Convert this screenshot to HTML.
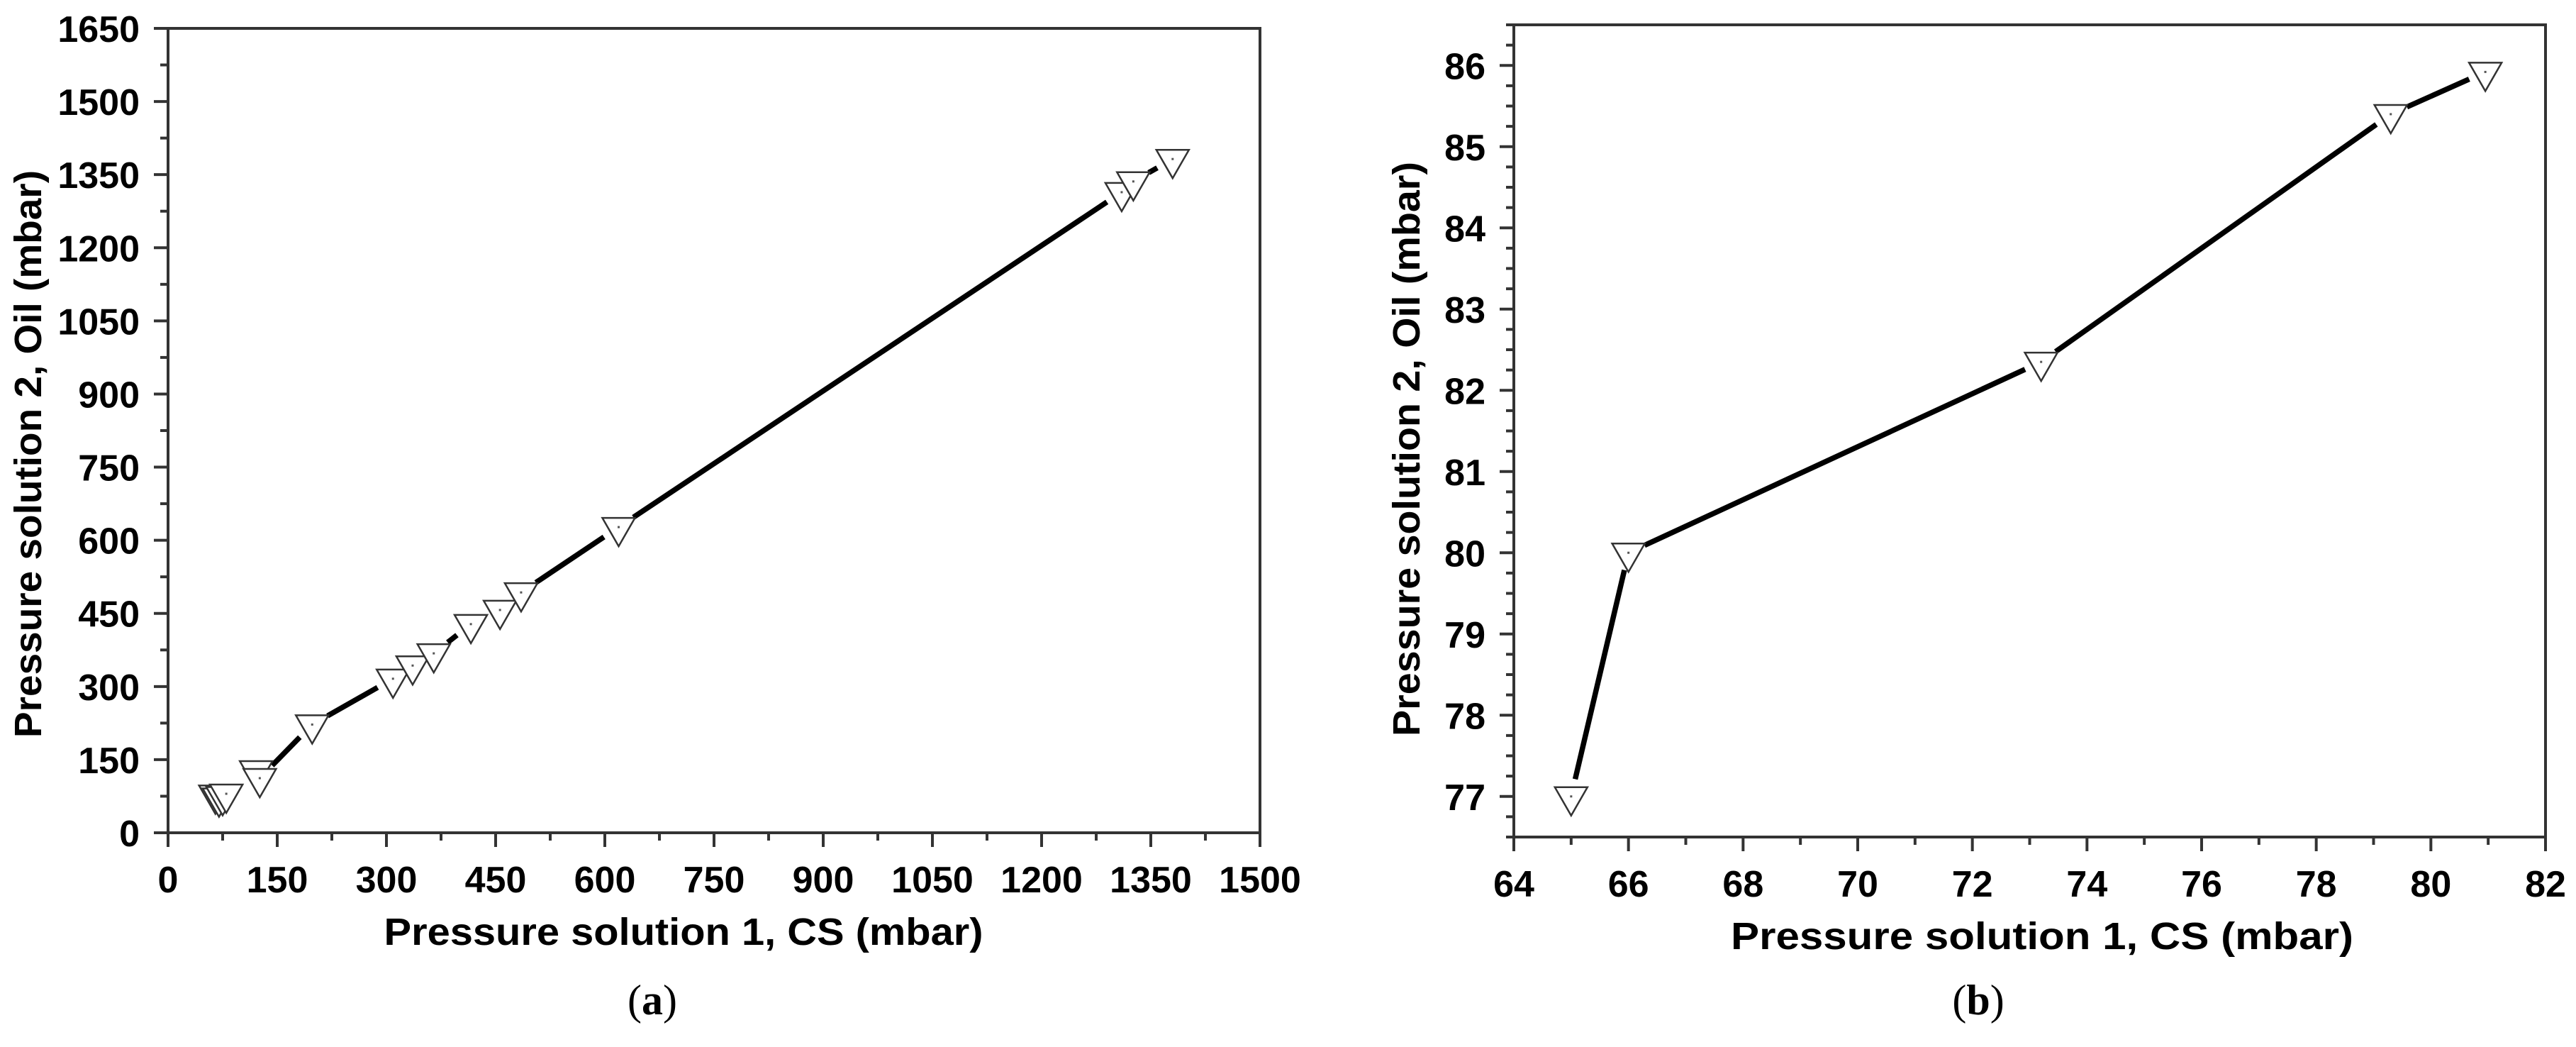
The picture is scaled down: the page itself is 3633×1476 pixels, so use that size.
<!DOCTYPE html>
<html><head><meta charset="utf-8"><style>
html,body{margin:0;padding:0;background:#fff;}
svg{display:block;}
text{font-family:"Liberation Sans",Arial,sans-serif;font-weight:bold;fill:#000;}
</style></head><body>
<svg id="root" width="3633" height="1476" viewBox="0 0 3633 1476" xmlns="http://www.w3.org/2000/svg">
<g id="pa"></g>
<g id="pb"></g>
<text x="920" y="1430" text-anchor="middle" style="font-family:'Liberation Serif',serif;font-size:60px;font-weight:normal">(<tspan font-weight="bold">a</tspan>)</text>
<text x="2790" y="1430" text-anchor="middle" style="font-family:'Liberation Serif',serif;font-size:60px;font-weight:normal">(<tspan font-weight="bold">b</tspan>)</text>
</svg>
<script>
// Panel (a) data
const aX = [65,70,75,80,121,126,198,309,336,365,416,456,485,619,1310,1326,1380];
const aY = [78,72,75,80,128,112,222,316,343,368,428,457,493,627,1314,1336,1382];
const aXTicks = [0,150,300,450,600,750,900,1050,1200,1350,1500];
const aYTicks = [0,150,300,450,600,750,900,1050,1200,1350,1500,1650];
// Panel (b) data
const bX = [65,66,73.2,79.3,80.95];
const bY = [77,80,82.35,85.4,85.92];
const bXTicks = [64,66,68,70,72,74,76,78,80,82];
const bYTicks = [77,78,79,80,81,82,83,84,85,86];

const NS = "http://www.w3.org/2000/svg";
function mk(parent, tag, attrs){
  const e = document.createElementNS(NS, tag);
  for (const k in attrs) e.setAttribute(k, attrs[k]);
  parent.appendChild(e); return e;
}
function panel(g, cfg){
  const {L,R,T,B,x0,x1,y0,y1} = cfg;
  const sx = v => L + (v - x0) / (x1 - x0) * (R - L);
  const sy = v => B - (v - y0) / (y1 - y0) * (B - T);
  const ax = "#333";
  const f = mk(g, "rect", {x:L, y:T, width:R-L, height:B-T, fill:"none", stroke:ax, "stroke-width":4});
  
  
  cfg.xt.forEach((v,i) => {
    const t = mk(g, "line", {x1:sx(v), x2:sx(v), y1:B, y2:B+20, stroke:ax, "stroke-width":4});
    
    
    const lb = mk(g, "text", {x:sx(v), y:B+84, "text-anchor":"middle", "font-size":52});
    lb.textContent = v;
    
    
    if (i < cfg.xt.length - 1) {
      const step = cfg.xt[i+1] - v;
      for (let k = 1; k < cfg.xm; k++) {
        const mv = v + step * k / cfg.xm;
        const m = mk(g, "line", {x1:sx(mv), x2:sx(mv), y1:B, y2:B+11, stroke:ax, "stroke-width":4});
        
        
      }
    }
  });
  cfg.yt.forEach((v,i) => {
    const t = mk(g, "line", {x1:L-20, x2:L, y1:sy(v), y2:sy(v), stroke:ax, "stroke-width":4});
    
    
    const lb = mk(g, "text", {x:cfg.ylx, y:sy(v)+19, "text-anchor":"end", "font-size":52});
    lb.textContent = v;
    
    
  });
  const ystep = cfg.yt[1] - cfg.yt[0];
  for (let v = cfg.yt[0] - ystep; v <= cfg.yt[cfg.yt.length-1] + ystep; v += ystep) {
    for (let k = 1; k < cfg.ym; k++) {
      const mv = v + ystep * k / cfg.ym;
      if (mv < y0 || mv > y1) continue;
      const m = mk(g, "line", {x1:L-11, x2:L, y1:sy(mv), y2:sy(mv), stroke:ax, "stroke-width":4});
      
      
    }
  }
  const xt = mk(g, "text", {x:cfg.xtx, y:B+158, "text-anchor":"middle", "font-size":54, textLength:cfg.xtl, lengthAdjust:"spacingAndGlyphs"});
  xt.textContent = "Pressure solution 1, CS (mbar)";
  
  
  const yt = mk(g, "text", {x:0, y:0, "text-anchor":"middle", "font-size":54, textLength:cfg.ytl, lengthAdjust:"spacingAndGlyphs", transform:`translate(${cfg.ytx},${cfg.yty}) rotate(-90)`});
  yt.textContent = "Pressure solution 2, Oil (mbar)";
  
  
  const X = cfg.xs, Y = cfg.ys, gap = 25;
  for (let i = 0; i < X.length - 1; i++) {
    const ax1 = sx(X[i]), ay1 = sy(Y[i]), ax2 = sx(X[i+1]), ay2 = sy(Y[i+1]);
    const d = Math.hypot(ax2-ax1, ay2-ay1);
    if (d <= 2*gap + 4) continue;
    const ux = (ax2-ax1)/d, uy = (ay2-ay1)/d;
    const s = mk(g, "line", {x1:ax1+ux*gap, y1:ay1+uy*gap, x2:ax2-ux*gap, y2:ay2-uy*gap, stroke:"#000", "stroke-width":7.5});
    
    
  }
  for (let i = 0; i < X.length; i++) {
    const cx = sx(X[i]), cy = sy(Y[i]);
    const p = mk(g, "polygon", {points:`${cx-23},${cy-13} ${cx+23},${cy-13} ${cx},${cy+27}`, fill:"#fff", stroke:"#333", "stroke-width":2.5});
    
    
    const dt = mk(g, "rect", {x:cx-1.5, y:cy-1.5, width:3, height:3, fill:"#555"});
    
    
  }
}
panel(document.getElementById("pa"), {
  L:237, R:1777, T:40, B:1174, x0:0, x1:1500, y0:0, y1:1650,
  xt:aXTicks, yt:aYTicks, xm:2, ym:2, ylx:197,
  xs:aX, ys:aY, xtx:964, xtl:845, ytx:58, yty:640, ytl:800
});
panel(document.getElementById("pb"), {
  L:2135, R:3590, T:35, B:1180, x0:64, x1:82, y0:76.5, y1:86.5,
  xt:bXTicks, yt:bYTicks, xm:2, ym:4, ylx:2095,
  xs:bX, ys:bY, xtx:2880, xtl:878, ytx:2002, yty:633, ytl:810
});
</script>
</body></html>
